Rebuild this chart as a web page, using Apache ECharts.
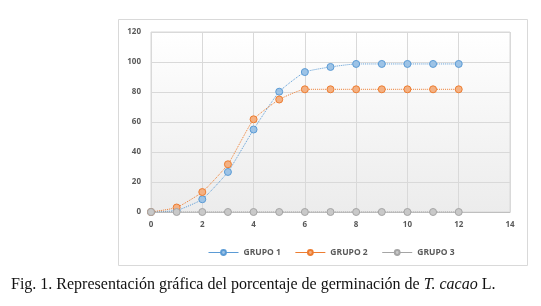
<!DOCTYPE html>
<html>
<head>
<meta charset="utf-8">
<script src="https://cdn.jsdelivr.net/npm/echarts@6/dist/echarts.min.js"></script>
<style>
  html, body { margin: 0; padding: 0; background: #fff; }
  #echart { width: 541px; height: 306px; }
</style>
</head>
<body>
<div id="echart"></div>
<script>
// days
const days = [0, 1, 2, 3, 4, 5, 6, 7, 8, 9, 10, 11, 12];
const grupo1 = [0, 1, 8.5, 26.7, 55, 80.2, 93.3, 96.7, 98.7, 98.7, 98.7, 98.7, 98.7];
const grupo2 = [0, 3, 13.3, 31.8, 61.8, 75, 81.8, 81.8, 81.8, 81.8, 81.8, 81.8, 81.8];
const grupo3 = [0, 0, 0, 0, 0, 0, 0, 0, 0, 0, 0, 0, 0];
const seriesNames = ["GRUPO 1", "GRUPO 2", "GRUPO 3"];
const caption = "Fig. 1. Representación gráfica del porcentaje de germinación de ";

const pairs = (vals) => days.map((d, i) => [d, vals[i]]);

const labelFont = { color: "#595959", fontSize: 8, fontWeight: "bold", fontFamily: "Open Sans" };

function lineSeries(name, vals, line, fill) {
  return {
    name: name,
    type: "line",
    data: pairs(vals),
    smooth: 0.15,
    symbol: "circle",
    symbolSize: 7,
    color: line,
    lineStyle: { color: line, width: 1, type: "dotted" },
    itemStyle: { color: fill, borderColor: line, borderWidth: 1 },
  };
}

const option = {
  animation: false,
  graphic: [
    {
      type: "rect",
      shape: { x: 118.5, y: 19.5, width: 409, height: 246 },
      style: { fill: "#fff", stroke: "#d9d9d9", lineWidth: 1 },
      z: -10,
    },
  ],
  title: {
    text: "{a|" + caption + "}{b|T. cacao}{a| L.}",
    left: 6,
    top: 272,
    textStyle: {
      rich: {
        a: { fontFamily: "Liberation Serif", fontSize: 16, fontWeight: "normal", color: "#111" },
        b: { fontFamily: "Liberation Serif", fontSize: 16, fontWeight: "normal", color: "#111", fontStyle: "italic" },
      },
    },
  },
  grid: {
    left: 151,
    right: 31,
    top: 32,
    bottom: 94,
    show: true,
    borderColor: "#d9d9d9",
    borderWidth: 1,
    backgroundColor: {
      type: "linear", x: 0, y: 0, x2: 0, y2: 1,
      colorStops: [
        { offset: 0, color: "#ffffff" },
        { offset: 1, color: "#ececec" },
      ],
    },
  },
  legend: {
    data: seriesNames,
    top: 243,
    left: 203,
    itemWidth: 30,
    itemHeight: 6,
    itemGap: 14,
    textStyle: { ...labelFont, fontSize: 8.5 },
    lineStyle: { type: "solid", width: 1 },
  },
  xAxis: {
    type: "value",
    min: 0,
    max: 14,
    interval: 2,
    axisLine: { lineStyle: { color: "#bfbfbf" } },
    axisTick: { show: false },
    axisLabel: { ...labelFont, margin: 9 },
    splitLine: { lineStyle: { color: "#d9d9d9" } },
  },
  yAxis: {
    type: "value",
    min: 0,
    max: 120,
    interval: 20,
    axisLine: { show: false },
    axisTick: { show: false },
    axisLabel: { ...labelFont, margin: 10 },
    splitLine: { lineStyle: { color: "#d9d9d9" } },
  },
  series: [
    lineSeries("GRUPO 1", grupo1, "#5b9bd5", "#9dc3e6"),
    lineSeries("GRUPO 2", grupo2, "#ed7d31", "#f4b183"),
    lineSeries("GRUPO 3", grupo3, "#a5a5a5", "#c9c9c9"),
  ],
};

const chart = echarts.init(document.getElementById("echart"));
chart.setOption(option);
</script>
</body>
</html>
